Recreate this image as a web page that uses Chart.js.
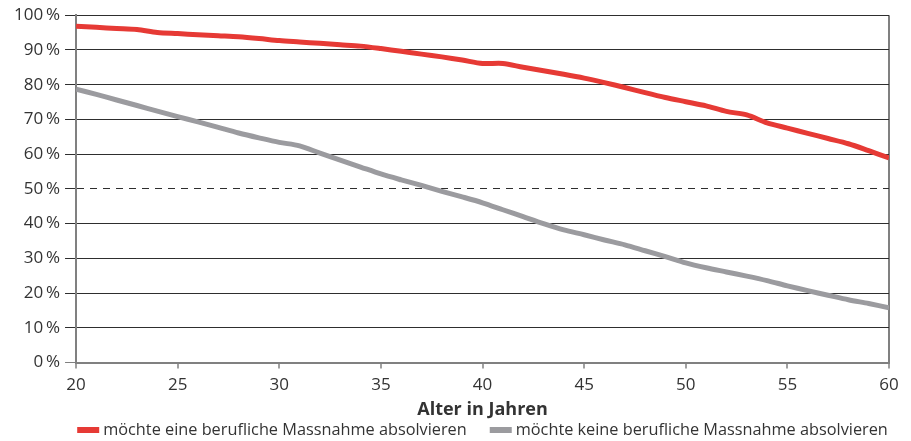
<!DOCTYPE html>
<html>
<head>
<meta charset="utf-8">
<script src="https://cdn.jsdelivr.net/npm/chart.js@4/dist/chart.umd.min.js"></script>
<style>
  html, body { margin: 0; padding: 0; background: #fff; }
  #wrap { width: 911px; height: 441px; }
</style>
</head>
<body>
<div id="wrap"><canvas id="myChart" width="911" height="441"></canvas></div>
<script>
// ages (x) and shares in percent
const ages = [20, 21, 22, 23, 24, 25, 26, 27, 28, 29, 30, 31, 32, 33, 34, 35, 36, 37, 38, 39, 40,
  41, 42, 43, 44, 45, 46, 47, 48, 49, 50, 51, 52, 53, 54, 55, 56, 57, 58, 59, 60];
const withMeasure = [96.8, 96.5, 96.2, 95.9, 95.0, 94.7, 94.4, 94.1, 93.8, 93.3, 92.7, 92.3, 91.9, 91.5, 91.1, 90.4,
  89.6, 88.8, 88.0, 87.1, 86.1, 86.1, 85.0, 84.0, 83.0, 81.9, 80.6, 79.2, 77.7, 76.3, 75.1,
  73.9, 72.3, 71.3, 69.0, 67.5, 66.0, 64.5, 63.0, 61.0, 58.9];
const withoutMeasure = [78.7, 77.2, 75.6, 74.0, 72.4, 70.8, 69.3, 67.7, 66.1, 64.7, 63.4, 62.4, 60.3, 58.3, 56.3, 54.3,
  52.6, 51.0, 49.3, 47.7, 46.0, 44.0, 42.0, 40.0, 38.2, 36.8, 35.3, 33.9, 32.2, 30.5, 28.7,
  27.3, 26.1, 24.9, 23.6, 22.1, 20.7, 19.4, 18.1, 17.0, 15.8];
const seriesNames = ["möchte eine berufliche Massnahme absolvieren", "möchte keine berufliche Massnahme absolvieren"];
const seriesColors = ["#e63a35", "#9b9b9f"];
const xTicks = [20, 25, 30, 35, 40, 45, 50, 55, 60];
const yTicks = [0, 10, 20, 30, 40, 50, 60, 70, 80, 90, 100];

const FONT = "'Open Sans', 'Noto Sans', sans-serif";
const axisGray = "#808080";
const gridDark = "#2e2e2e";
const textCol = "#333333";

// legend drawn under the axis title, centred on the plot
const bottomLegend = {
  id: "bottomLegend",
  afterDraw(chart) {
    const ctx = chart.ctx;
    const area = chart.chartArea;
    ctx.save();
    ctx.font = "16.3px " + FONT;
    ctx.textBaseline = "middle";
    const boxW = 22, boxH = 6, gap = 4, between = 23;
    const widths = seriesNames.map(t => ctx.measureText(t).width);
    const total = widths.reduce((a, w) => a + boxW + gap + w, 0) + between;
    let x = (area.left + area.right) / 2 - total / 2;
    const y = 430;
    seriesNames.forEach((t, i) => {
      ctx.fillStyle = seriesColors[i];
      ctx.fillRect(x, y - boxH / 2, boxW, boxH);
      x += boxW + gap;
      ctx.fillStyle = textCol;
      ctx.fillText(t, x, y);
      x += widths[i] + between;
    });
    ctx.restore();
  }
};

new Chart(document.getElementById("myChart").getContext("2d"), {
  type: "line",
  data: {
    datasets: [
      {
        label: seriesNames[0],
        data: ages.map((a, i) => ({ x: a, y: withMeasure[i] })),
        borderColor: seriesColors[0],
        backgroundColor: seriesColors[0],
        borderWidth: 5,
        pointRadius: 0,
        tension: 0.3
      },
      {
        label: seriesNames[1],
        data: ages.map((a, i) => ({ x: a, y: withoutMeasure[i] })),
        borderColor: seriesColors[1],
        backgroundColor: seriesColors[1],
        borderWidth: 5,
        pointRadius: 0,
        tension: 0.3
      }
    ]
  },
  options: {
    responsive: false,
    animation: false,
    layout: { padding: { top: 6, right: 22, bottom: 22, left: 9 } },
    plugins: {
      legend: { display: false },
      tooltip: { enabled: false }
    },
    scales: {
      x: {
        type: "linear",
        min: 20,
        max: 60,
        afterBuildTicks: s => { s.ticks = xTicks.map(v => ({ value: v })); },
        ticks: { color: textCol, font: { family: FONT, size: 17 }, padding: 6 },
        grid: {
          drawOnChartArea: true,
          color: c => (c.tick && c.tick.value === 60 ? axisGray : "rgba(0,0,0,0)"),
          lineWidth: 2,
          tickColor: axisGray,
          tickLength: 6,
          tickWidth: 1.5
        },
        border: { color: axisGray, width: 2 },
        title: {
          display: true,
          text: "Alter in Jahren",
          color: textCol,
          font: { family: FONT, size: 18, weight: "bold", lineHeight: 1.0 },
          padding: { top: 0, bottom: 0 }
        }
      },
      y: {
        min: 0,
        max: 100,
        afterBuildTicks: s => { s.ticks = yTicks.map(v => ({ value: v })); },
        ticks: {
          color: textCol,
          font: { family: FONT, size: 17 },
          padding: 5,
          callback: v => v + "\u2009%"
        },
        grid: {
          color: c => (c.tick && c.tick.value === 0 ? axisGray : gridDark),
          lineWidth: 1,
          tickLength: 11
        },
        border: {
          color: axisGray,
          width: 2,
          dash: c => (c.tick && c.tick.value === 50 ? [7, 6] : [])
        }
      }
    }
  },
  plugins: [bottomLegend]
});
</script>
</body>
</html>
